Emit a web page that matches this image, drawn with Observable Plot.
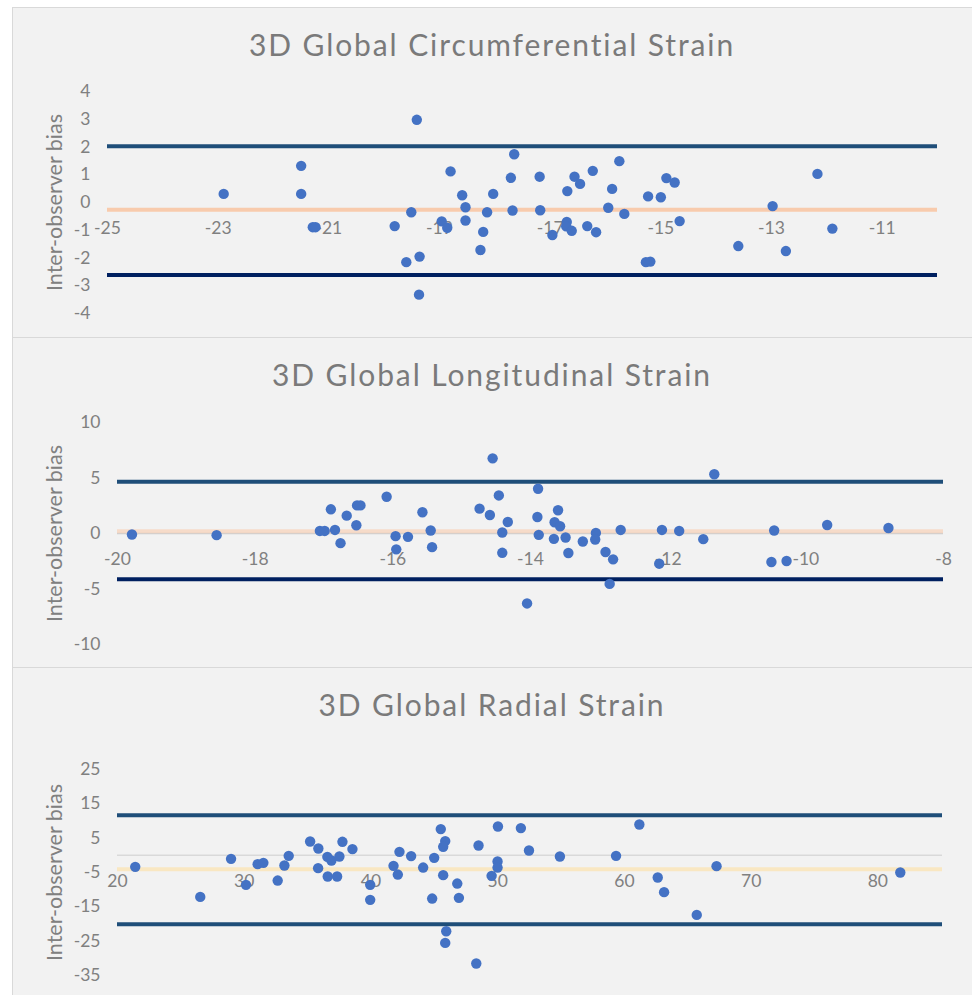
<!DOCTYPE html>
<html>
<head>
<meta charset="utf-8">
<script src="https://cdn.jsdelivr.net/npm/d3@7"></script>
<script src="https://cdn.jsdelivr.net/npm/@observablehq/plot@0.6"></script>
<style>
  html, body { margin: 0; padding: 0; background: #ffffff; overflow: hidden; }
  .panel { position: absolute; left: 12px; width: 962px; height: 331px; background: #f2f2f2;
           box-shadow: inset 0 0 0 1px #d9d9d9; overflow: hidden; }
  .panel svg { position: absolute; left: 0; top: 0; }
  .title { position: absolute; left: 0; width: 960px; top: 20px; text-align: center;
           font-family: Lato, "Open Sans", sans-serif; font-size: 30px; line-height: 34px;
           color: #7a7a7a; letter-spacing: 1.9px; z-index: 2; }
</style>
</head>
<body>
<div id="root"></div>
<script>
// ---------- Data ----------
const titles = ["3D Global Circumferential Strain", "3D Global Longitudinal Strain", "3D Global Radial Strain"];
const yLabel = "Inter-observer bias";

// Circumferential: mean (x) and inter-observer difference (y)
const circX = [-22.90,-21.50,-21.50,-21.29,-21.24,-19.81,-19.41,-19.51,-19.60,-19.36,-19.37,-18.96,-18.86,-18.80,-18.59,-18.53,-18.53,-18.26,-18.21,-18.14,-18.03,-17.71,-17.65,-17.68,-17.19,-17.18,-16.96,-16.70,-16.71,-16.69,-16.61,-16.56,-16.46,-16.33,-16.23,-16.17,-15.95,-15.88,-15.75,-15.66,-15.23,-15.27,-15.19,-15.00,-14.90,-14.75,-14.66,-13.60,-12.98,-12.74,-12.17,-11.90];
const circY = [0.31,1.32,0.31,-0.89,-0.89,-0.85,2.98,-0.35,-2.15,-1.95,-3.32,-0.68,-0.91,1.12,0.26,-0.17,-0.65,-1.71,-1.06,-0.35,0.31,0.89,1.74,-0.29,0.93,-0.28,-1.17,-0.70,-0.86,0.41,-1.02,0.93,0.67,-0.85,1.14,-1.07,-0.19,0.49,1.49,-0.41,0.22,-2.15,-2.13,0.19,0.88,0.72,-0.67,-1.57,-0.13,-1.75,1.03,-0.94];
const circLimits = {upper: 2.03, bias: -0.26, lower: -2.61};
const circXTicks = [-25,-23,-21,-19,-17,-15,-13,-11];
const circYTicks = [-4,-3,-2,-1,0,1,2,3,4];

// Longitudinal
const longX = [-19.79,-18.56,-17.06,-16.99,-16.84,-16.90,-16.76,-16.67,-16.53,-16.52,-16.47,-16.09,-15.96,-15.95,-15.78,-15.57,-15.45,-15.43,-14.74,-14.59,-14.55,-14.46,-14.41,-14.41,-14.33,-14.05,-13.89,-13.90,-13.88,-13.66,-13.60,-13.65,-13.57,-13.49,-13.45,-13.24,-13.05,-13.06,-12.91,-12.80,-12.85,-12.69,-12.09,-12.13,-11.84,-11.49,-11.33,-10.46,-10.50,-10.28,-9.69,-8.80];
const longY = [-0.09,-0.15,0.23,0.23,0.32,2.18,-0.87,1.61,0.74,2.53,2.53,3.31,-0.24,-1.43,-0.30,1.91,0.27,-1.23,2.24,1.67,6.77,3.43,0.09,-1.74,1.04,-6.30,4.03,1.49,-0.12,-0.48,2.09,1.01,0.65,-0.36,-1.76,-0.72,0.05,-0.54,-1.67,-2.33,-4.54,0.32,0.32,-2.72,0.23,-0.51,5.34,0.27,-2.57,-2.48,0.77,0.50];
const longLimits = {upper: 4.66, bias: 0.21, lower: -4.12};
const longXTicks = [-20,-18,-16,-14,-12,-10,-8];
const longYTicks = [-10,-5,0,5,10];

// Radial
const radX = [21.40,26.53,28.96,30.14,31.06,31.51,32.64,33.17,33.51,35.20,35.85,35.83,36.56,36.88,36.59,37.33,37.51,37.75,38.54,39.94,39.94,41.78,42.12,42.25,43.17,44.12,44.83,44.99,45.51,45.86,45.70,45.70,45.94,45.86,46.81,46.94,48.31,48.49,49.52,50.02,49.99,49.99,51.83,52.47,54.91,59.34,61.18,62.63,63.13,65.71,67.27,81.77];
const radY = [-3.35,-12.10,-1.02,-8.60,-2.57,-2.19,-7.35,-2.97,-0.15,4.02,1.98,-3.73,-0.44,-1.52,-6.18,-6.18,-0.35,3.94,1.81,-8.60,-12.97,-3.06,-5.60,1.02,-0.23,-3.56,-12.59,-0.73,7.64,4.14,2.48,-5.77,-22.10,-25.51,-8.22,-12.39,-31.50,2.86,-5.98,8.40,-1.81,-3.56,7.93,1.40,-0.35,-0.15,8.98,-6.47,-10.73,-17.35,-3.15,-5.01];
const radLimits = {upper: 11.7, bias: -4.03, lower: -20.06};
const radXTicks = [20,30,40,50,60,70,80];
const radYTicks = [-35,-25,-15,-5,5,15,25];

// ---------- Panel configuration ----------
const panels = [
  {title: titles[0], xs: circX, ys: circY, lim: circLimits, xTicks: circXTicks, yTicks: circYTicks,
   xDomain: [-25, -10], yDomain: [-4, 4], top: 7,
   margin: {left: 95, right: 35, top: 84, bottom: 25},
   zeroLine: null, biasColor: "#f8cbad", upperColor: "#1f4e79", lowerColor: "#002060"},
  {title: titles[1], xs: longX, ys: longY, lim: longLimits, xTicks: longXTicks, yTicks: longYTicks,
   xDomain: [-20, -8], yDomain: [-10, 10], top: 337,
   margin: {left: 105, right: 29, top: 85, bottom: 24},
   zeroLine: "#d0d0d0", biasColor: "rgba(248,203,173,0.6)", upperColor: "#1f4e79", lowerColor: "#002060"},
  {title: titles[2], xs: radX, ys: radY, lim: radLimits, xTicks: radXTicks, yTicks: radYTicks,
   xDomain: [20, 85.1], yDomain: [-35, 25], top: 667,
   margin: {left: 105, right: 30, top: 102, bottom: 23},
   zeroLine: "#d9d9d9", biasColor: "#f9e7c2", upperColor: "#1f4e79", lowerColor: "#1f4e79"}
];

const W = 960, H = 331;
const fontFamily = "Lato, 'Open Sans', sans-serif";
const root = document.getElementById("root");

for (const p of panels) {
  const data = p.xs.map((x, i) => ({x, y: p.ys[i]}));
  const plotH = H - p.margin.top - p.margin.bottom;
  const frameBottom = H - p.margin.bottom;
  const zeroY = p.margin.top + (p.yDomain[1] - 0) / (p.yDomain[1] - p.yDomain[0]) * plotH;
  const capTop = zeroY + 19; // tick labels sit just below the y = 0 crossing
  const dyX = capTop - frameBottom;
  const labelCenterX = p.margin.left === 95 ? 42.5 : 43; // centre of rotated axis title, px from left edge

  const marks = [];
  if (p.zeroLine) marks.push(Plot.ruleY([0], {stroke: p.zeroLine, strokeWidth: 1.5}));
  marks.push(
    Plot.ruleY([p.lim.bias], {stroke: p.biasColor, strokeWidth: 4}),
    Plot.ruleY([p.lim.upper], {stroke: p.upperColor, strokeWidth: 4}),
    Plot.ruleY([p.lim.lower], {stroke: p.lowerColor, strokeWidth: 4}),
    Plot.axisY(p.yTicks, {tickSize: 0, tickPadding: 17, label: null, tickFormat: d => String(d),
      fill: "#808080", fontSize: 17.5}),
    Plot.axisX(p.xTicks, {tickSize: 0, tickPadding: 0, label: null, tickFormat: d => String(d),
      dy: dyX, fill: "#808080", fontSize: 17.5}),
    Plot.dot(data, {x: "x", y: "y", r: 5.2, fill: "#4472c4", stroke: "none"}),
    Plot.text([yLabel], {frameAnchor: "left", textAnchor: "middle", lineAnchor: "middle", rotate: -90,
      dx: -(p.margin.left - labelCenterX), fontSize: 21.5, fill: "#808080"})
  );

  const svg = Plot.plot({
    width: W, height: H,
    marginLeft: p.margin.left, marginRight: p.margin.right,
    marginTop: p.margin.top, marginBottom: p.margin.bottom,
    style: {background: "transparent", fontFamily, fontSize: "17px", color: "#808080", overflow: "visible"},
    x: {domain: p.xDomain},
    y: {domain: p.yDomain},
    marks
  });

  const panel = document.createElement("div");
  panel.className = "panel";
  panel.style.top = p.top + "px";
  const t = document.createElement("div");
  t.className = "title";
  t.textContent = p.title;
  panel.appendChild(t);
  panel.appendChild(svg);
  root.appendChild(panel);
}
</script>
</body>
</html>
